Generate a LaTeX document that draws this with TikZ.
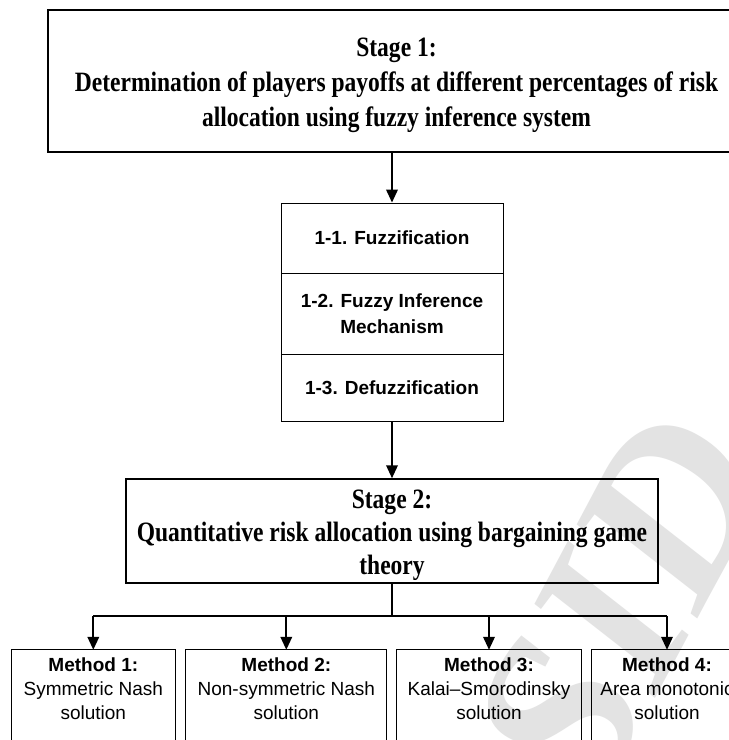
\documentclass[tikz,border=0pt]{standalone}
\usepackage{fontspec}
\setmainfont{Liberation Sans}
\newfontfamily\tnr{Liberation Serif}[FakeStretch=0.84]
\newfontfamily\wmfont{Liberation Serif}
\usetikzlibrary{arrows.meta}
\newcommand{\lowerblock}[2]{\raisebox{-#1}[\height][\depth]{\begin{tabular}{@{}c@{}}#2\end{tabular}}}
\begin{document}
\begin{tikzpicture}[x=1pt,y=-1pt,
  stagebox/.style={draw, line width=1.5pt, align=center, inner sep=0pt},
  subbox/.style={draw, line width=0.9pt, minimum width=222pt, align=center, inner sep=0pt,
    font=\bfseries\fontsize{19}{26}\selectfont},
  methbox/.style={align=center, inner sep=0pt, minimum height=78pt,
    font=\fontsize{19}{24}\selectfont},
  methedge/.style={line width=0.9pt},
  conn/.style={line width=2pt, -{Triangle[length=13pt,width=11.5pt]}},
  wire/.style={line width=2pt}]
\clip (0,0) rectangle (729,740);
\fill[white] (0,0) rectangle (729,740);
% watermark
\node[rotate=62, text=gray!22, font=\wmfont\bfseries\itshape\fontsize{230}{230}\selectfont] (wm) at (620,605) {SID};
% stage 1
\node[stagebox, minimum width=697pt, minimum height=142pt,
  font=\tnr\bfseries\fontsize{28}{35}\selectfont] (s1) at (396.5,81)
  {\lowerblock{3pt}{Stage 1:\\Determination of players payoffs at different percentages of risk\\allocation using fuzzy inference system}};
% sub steps
\node[subbox, minimum height=70pt] (f1) at (392,238) {1-1. Fuzzification};
\node[subbox, minimum height=81pt] (f2) at (392,313.5) {1-2. Fuzzy Inference\\Mechanism};
\node[subbox, minimum height=67pt] (f3) at (392,387.5) {1-3. Defuzzification};
% stage 2
\node[stagebox, minimum width=532pt, minimum height=104pt,
  font=\tnr\bfseries\fontsize{28}{33}\selectfont] (s2) at (392,531)
  {\lowerblock{4pt}{Stage 2:\\Quantitative risk allocation using bargaining game\\theory}};
% methods
\node[methbox, minimum width=163.4pt] (m1) at (93.3,689) {\textbf{Method 1:}\\Symmetric Nash\\solution};
\node[methbox, minimum width=200.5pt] (m2) at (286.3,689) {\textbf{Method 2:}\\Non-symmetric Nash\\solution};
\node[methbox, minimum width=184pt] (m3) at (489,689) {\textbf{Method 3:}\\Kalai–Smorodinsky\\solution};
\node[methbox, minimum width=150pt] (m4) at (667,689) {\textbf{Method 4:}\\Area monotonic\\solution};
\foreach \m in {m1,m2,m3,m4}{
  \draw[methedge] ([yshift=-40pt]\m.south west) -- (\m.north west) -- (\m.north east) -- ([yshift=-40pt]\m.south east);
}
% connectors
\draw[conn] (s1.south -| f1.north) -- (f1.north);
\draw[conn] (f3.south) -- (s2.north);
\coordinate (bar) at (392,616);
\draw[wire] (s2.south) -- (bar);
\draw[wire] (m1.north |- bar) -- (m4.north |- bar);
\foreach \m in {m1,m2,m3,m4}{
  \draw[conn] (\m.north |- bar) -- (\m.north);
}
\end{tikzpicture}
\end{document}
